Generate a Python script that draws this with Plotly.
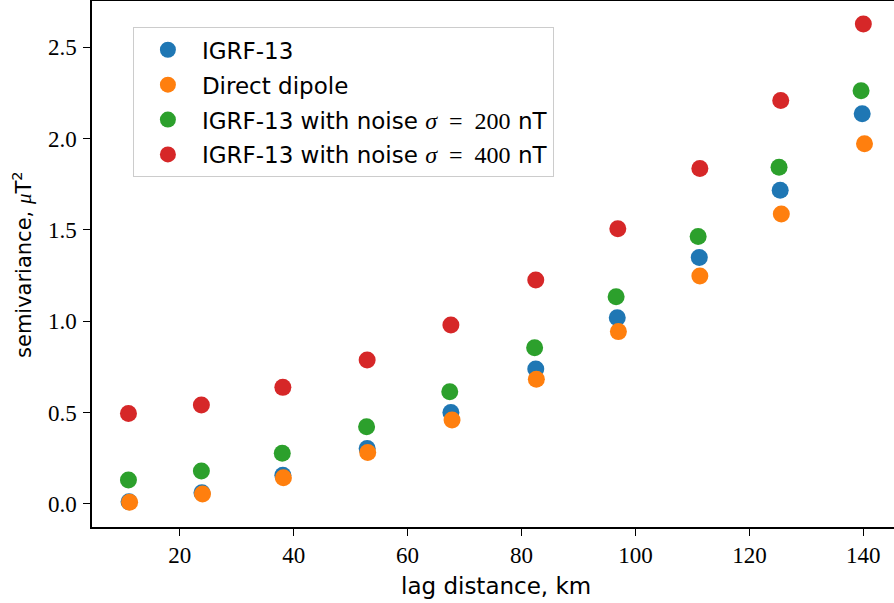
import plotly.graph_objects as go

# lag distances (km) per series
lag_igrf = [11.1, 23.9, 38.1, 52.9, 67.6, 82.5, 96.8, 111.2, 125.4, 139.8]
lag_dipole = [11.2, 24.0, 38.2, 53.0, 67.8, 82.6, 97.0, 111.3, 125.6, 140.2]
lag_n200 = [11.0, 23.8, 38.0, 52.8, 67.4, 82.3, 96.6, 111.0, 125.2, 139.6]
lag_n400 = [11.0, 23.8, 38.1, 52.9, 67.6, 82.5, 96.9, 111.3, 125.5, 140.0]

# semivariance values (uT^2)
sv_igrf = [0.012, 0.062, 0.157, 0.303, 0.500, 0.739, 1.019, 1.348, 1.716, 2.135]
sv_dipole = [0.009, 0.055, 0.144, 0.281, 0.460, 0.682, 0.943, 1.247, 1.586, 1.971]
sv_n200 = [0.131, 0.181, 0.277, 0.423, 0.614, 0.855, 1.134, 1.464, 1.842, 2.261]
sv_n400 = [0.495, 0.542, 0.638, 0.788, 0.979, 1.225, 1.506, 1.836, 2.208, 2.626]

x_ticks = [20, 40, 60, 80, 100, 120, 140]
y_ticks = [0.0, 0.5, 1.0, 1.5, 2.0, 2.5]

SANS = "DejaVu Sans"
SERIF = "Liberation Serif"
MATH = "font-family:'Liberation Serif';font-size:24px"
names = [
    "IGRF-13",
    "Direct dipole",
    "IGRF-13 with noise <span style=\"%s\"><i>σ</i>&nbsp;&nbsp;=&nbsp;&nbsp;200</span> nT" % MATH,
    "IGRF-13 with noise <span style=\"%s\"><i>σ</i>&nbsp;&nbsp;=&nbsp;&nbsp;400</span> nT" % MATH,
]
colors = ["#1f77b4", "#ff7f0e", "#2ca02c", "#d62728"]
xs = [lag_igrf, lag_dipole, lag_n200, lag_n400]
ys = [sv_igrf, sv_dipole, sv_n200, sv_n400]

fig = go.Figure()
for i, (n, c, x, y) in enumerate(zip(names, colors, xs, ys)):
    fig.add_trace(go.Scatter(
        x=x, y=y, mode="markers", name=n, legendgroup="g%d" % i,
        marker=dict(color=c, size=17, line=dict(width=0)),
    ))

fig.update_layout(
    width=894, height=603,
    margin=dict(l=92, r=0, t=1, b=76, autoexpand=False),
    paper_bgcolor="white", plot_bgcolor="white",
    showlegend=True,
    legend=dict(
        x=0.051, y=0.95, xanchor="left", yanchor="top",
        bgcolor="rgba(255,255,255,0.8)", bordercolor="#cccccc", borderwidth=1,
        font=dict(family=SANS, size=23, color="black"),
        itemwidth=58, tracegroupgap=2,
    ),
    xaxis=dict(
        range=[4.6, 145.38], tickvals=x_ticks, ticks="outside", ticklen=7,
        tickwidth=1.3, tickcolor="black", showline=True, linecolor="black",
        linewidth=1.5, mirror=True, showgrid=False, zeroline=False,
        automargin=False,
        tickfont=dict(family=SERIF, size=23, color="black"),
    ),
    yaxis=dict(
        range=[-0.126, 2.752], tickvals=y_ticks, tickformat=".1f",
        ticks="outside", ticklen=7, tickwidth=1.3, tickcolor="black",
        showline=True, linecolor="black", linewidth=1.5, mirror=False,
        showgrid=False, zeroline=False, automargin=False,
        ticklabelstandoff=2,
        tickfont=dict(family=SERIF, size=23, color="black"),
    ),
    annotations=[
        dict(text="lag distance, km", x=(496 - 92) / 802, y=-0.112,
             xref="paper", yref="paper", xanchor="center", yanchor="middle",
             showarrow=False, font=dict(family=SANS, size=23, color="black")),
        dict(text="semivariance, <span style=\"font-family:'Liberation Serif'\"><i>μ</i></span>T<sup>2</sup>",
             x=-0.0873, y=0.5,
             xref="paper", yref="paper", xanchor="center", yanchor="middle",
             textangle=-90, showarrow=False,
             font=dict(family=SANS, size=21, color="black")),
    ],
)

fig.write_html(
    "out.html",
    config={"displayModeBar": False},
    post_script="document.body.style.margin='0';document.body.style.padding='0';document.body.style.overflow='hidden';",
)
